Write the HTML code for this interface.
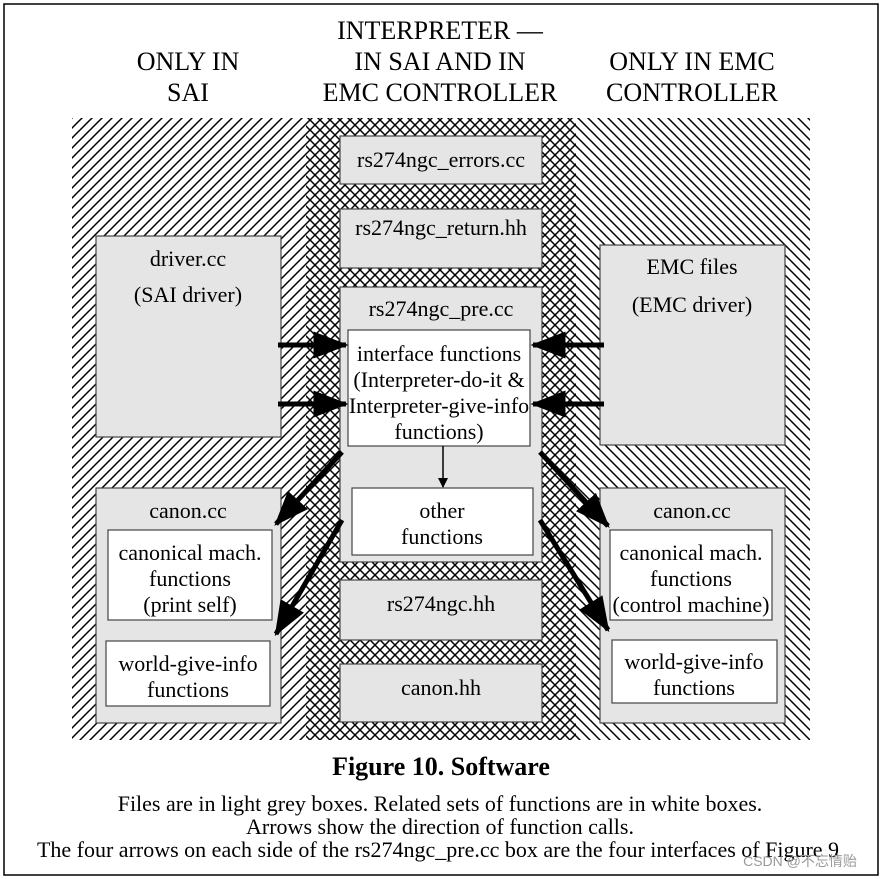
<!DOCTYPE html>
<html><head><meta charset="utf-8"><style>
body{margin:0;background:#fff}
svg{display:block}
text{font-family:"Liberation Serif",serif;fill:#000}
</style></head><body>
<svg width="883" height="879" viewBox="0 0 883 879" xmlns="http://www.w3.org/2000/svg">
<defs>
<pattern id="fw" width="10" height="10" patternUnits="userSpaceOnUse">
<rect width="10" height="10" fill="#fff"/>
<path d="M-2,12 L12,-2 M-2,2 L2,-2 M8,12 L12,8" stroke="#000" stroke-width="1.5"/>
</pattern>
<pattern id="bw" width="10" height="10" patternUnits="userSpaceOnUse">
<rect width="10" height="10" fill="#fff"/>
<path d="M-2,-2 L12,12 M-2,8 L2,12 M8,-2 L12,2" stroke="#000" stroke-width="1.5"/>
</pattern>
<pattern id="xh" width="10" height="10" patternUnits="userSpaceOnUse">
<rect width="10" height="10" fill="#fff"/>
<path d="M-2,12 L12,-2 M-2,2 L2,-2 M8,12 L12,8 M-2,-2 L12,12 M-2,8 L2,12 M8,-2 L12,2" stroke="#000" stroke-width="1.5"/>
</pattern>
<marker id="ah" markerWidth="7" markerHeight="6" refX="6.5" refY="3" orient="auto" markerUnits="strokeWidth">
<path d="M0,0.3 L7,3 L0,5.7 Z" fill="#000"/>
</marker>
<marker id="ah2" markerWidth="10" markerHeight="10" refX="9" refY="5" orient="auto" markerUnits="userSpaceOnUse">
<path d="M0,0 L10,5 L0,10 Z" fill="#000"/>
</marker>
</defs>
<rect x="4" y="4" width="874" height="871" fill="none" stroke="#000" stroke-width="1.5"/>
<g font-size="26" text-anchor="middle">
<text x="188" y="70">ONLY IN</text><text x="188" y="101">SAI</text>
<text x="440" y="39">INTERPRETER —</text><text x="440" y="70">IN SAI AND IN</text><text x="440" y="101">EMC CONTROLLER</text>
<text x="692" y="70">ONLY IN EMC</text><text x="692" y="101">CONTROLLER</text>
</g>
<rect x="72" y="118" width="235" height="622" fill="url(#fw)"/>
<rect x="576" y="118" width="234" height="622" fill="url(#bw)"/>
<rect x="306" y="118" width="270" height="622" fill="url(#xh)"/>
<g fill="#e5e5e5" stroke="#444" stroke-width="1.2">
<rect x="340" y="136" width="202" height="48"/>
<rect x="340" y="209" width="202" height="59"/>
<rect x="340" y="287" width="202" height="275"/>
<rect x="340" y="580" width="202" height="60"/>
<rect x="340" y="664" width="202" height="58"/>
<rect x="96" y="236" width="185" height="201"/>
<rect x="600" y="245" width="185" height="200"/>
<rect x="96" y="488" width="185" height="235"/>
<rect x="600" y="488" width="185" height="235"/>
</g>
<g fill="#fff" stroke="#444" stroke-width="1.2">
<rect x="348" y="330" width="182" height="116"/>
<rect x="352" y="488" width="181" height="67"/>
<rect x="108" y="530" width="164" height="90"/>
<rect x="106" y="641" width="164" height="65"/>
<rect x="610" y="530" width="162" height="90"/>
<rect x="612" y="640" width="165" height="63"/>
</g>
<g font-size="22" text-anchor="middle">
<text x="441" y="167">rs274ngc_errors.cc</text>
<text x="441" y="235">rs274ngc_return.hh</text>
<text x="441" y="316">rs274ngc_pre.cc</text>
<text x="439" y="361">interface functions</text>
<text x="439" y="387">(Interpreter-do-it &amp;</text>
<text x="439" y="413">Interpreter-give-info</text>
<text x="439" y="439">functions)</text>
<text x="442" y="518">other</text>
<text x="442" y="544">functions</text>
<text x="441" y="611">rs274ngc.hh</text>
<text x="441" y="695">canon.hh</text>
<text x="188" y="266">driver.cc</text>
<text x="188" y="302">(SAI driver)</text>
<text x="692" y="274">EMC files</text>
<text x="692" y="312">(EMC driver)</text>
<text x="188" y="518">canon.cc</text>
<text x="190" y="560">canonical mach.</text>
<text x="190" y="586">functions</text>
<text x="190" y="612">(print self)</text>
<text x="188" y="671">world-give-info</text>
<text x="188" y="697">functions</text>
<text x="692" y="518">canon.cc</text>
<text x="691" y="560">canonical mach.</text>
<text x="691" y="586">functions</text>
<text x="691" y="612">(control machine)</text>
<text x="694" y="669">world-give-info</text>
<text x="694" y="695">functions</text>
</g>
<g stroke="#000" stroke-width="5" marker-end="url(#ah)">
<line x1="278" y1="345" x2="346" y2="345"/>
<line x1="278" y1="404" x2="346" y2="404"/>
<line x1="604" y1="345" x2="533" y2="345"/>
<line x1="604" y1="404" x2="533" y2="404"/>
<line x1="342" y1="452" x2="276" y2="524"/>
<line x1="342" y1="520" x2="276" y2="634"/>
<line x1="540" y1="452" x2="608" y2="526"/>
<line x1="540" y1="520" x2="608" y2="630"/>
</g>
<line x1="443" y1="446" x2="443" y2="487" stroke="#000" stroke-width="1.5" marker-end="url(#ah2)"/>
<text x="441" y="775" font-size="26" font-weight="bold" text-anchor="middle">Figure 10. Software</text>
<g font-size="22" text-anchor="middle">
<text x="440" y="811">Files are in light grey boxes. Related sets of functions are in white boxes.</text>
<text x="440" y="834">Arrows show the direction of function calls.</text>
<text x="438" y="857">The four arrows on each side of the rs274ngc_pre.cc box are the four interfaces of Figure 9</text>
</g>
<text x="800" y="866" font-size="14" style="fill:#999;font-family:'Liberation Sans','Noto Sans CJK SC',sans-serif" text-anchor="middle">CSDN @不忘情贻</text>
</svg>
</body></html>
